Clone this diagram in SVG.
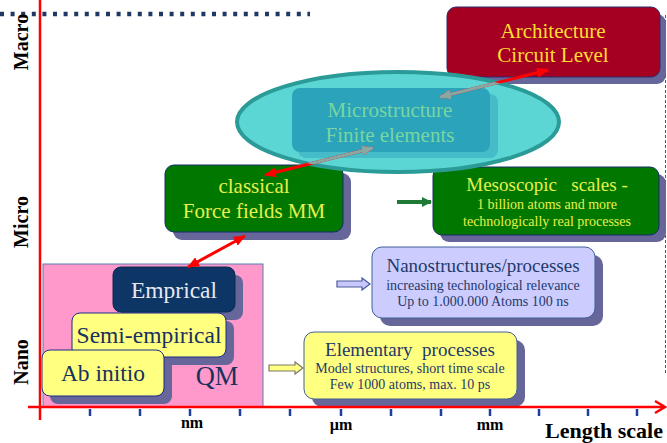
<svg xmlns="http://www.w3.org/2000/svg" width="667" height="443" viewBox="0 0 667 443" font-family="'Liberation Serif', 'Times New Roman', serif">
  <style>
    .t { text-anchor: middle; }
    .shadow { fill: #66669a; }
    .axis { stroke: #ff0000; stroke-width: 2.5; fill: none; }
    .tick { stroke: #1f3fa0; stroke-width: 2.5; }
    .lbl { font-weight: bold; fill: #000; }
    .red { stroke: #ff0000; stroke-width: 3; fill: none; marker-start: url(#rh); marker-end: url(#rh); }
    .grey { stroke: #8aa7a4; stroke-width: 3; fill: none; marker-start: url(#gh); marker-end: url(#gh); }
  </style>
  <defs>
    <marker id="rh" viewBox="0 0 12 10" refX="11" refY="5" markerWidth="12" markerHeight="10" markerUnits="userSpaceOnUse" orient="auto-start-reverse">
      <path d="M0,0 L12,5 L0,10 Z" fill="#ff0000"/>
    </marker>
    <marker id="gh" viewBox="0 0 12 10" refX="11" refY="5" markerWidth="12" markerHeight="10" markerUnits="userSpaceOnUse" orient="auto-start-reverse">
      <path d="M0,0 L12,5 L0,10 Z" fill="#8aa7a4"/>
    </marker>
    <marker id="gr" viewBox="0 0 10 10" refX="9" refY="5" markerWidth="10" markerHeight="10" markerUnits="userSpaceOnUse" orient="auto">
      <path d="M0,0 L10,5 L0,10 Z" fill="#1f7a36"/>
    </marker>
    <clipPath id="inEllipse">
      <ellipse cx="398" cy="122" rx="161" ry="50"/>
    </clipPath>
  </defs>

  <!-- scale boundaries -->
  <line x1="0" y1="14" x2="310" y2="14" stroke="#1f3864" stroke-width="4.5" stroke-dasharray="4 6.6"/>
  <line x1="665.5" y1="15" x2="665.5" y2="375" stroke="#555" stroke-width="1" stroke-dasharray="3 2"/>

  <!-- level labels -->
  <text class="lbl" font-size="20" text-anchor="middle" transform="translate(28,42) rotate(-90)">Macro</text>
  <text class="lbl" font-size="20" text-anchor="middle" transform="translate(28,222) rotate(-90)">Micro</text>
  <text class="lbl" font-size="20" text-anchor="middle" transform="translate(28,362) rotate(-90)">Nano</text>

  <!-- QM region -->
  <g id="qm">
    <rect x="43" y="264" width="220" height="143" fill="#ff99cc" stroke="#5a7db0" stroke-width="1"/>
    <text class="t" x="217" y="385" font-size="26.5" fill="#16325e">QM</text>
  </g>
  <g id="emprical">
    <rect class="shadow" x="121" y="275" width="122" height="45" rx="8"/>
    <rect x="113" y="267" width="122" height="45" rx="8" fill="#0d3566" stroke="#0a2a55"/>
    <text class="t" x="174" y="298" font-size="23.5" fill="#e6e8f2">Emprical</text>
  </g>
  <g id="semi-empirical">
    <rect class="shadow" x="80" y="321" width="154" height="44" rx="8"/>
    <rect x="72" y="313" width="154" height="44" rx="8" fill="#ffff80" stroke="#1a2a8a"/>
    <text class="t" x="149" y="343" font-size="23.5" fill="#16325e">Semi-empirical</text>
  </g>
  <g id="ab-initio">
    <rect class="shadow" x="50" y="358" width="122" height="46" rx="8"/>
    <rect x="42" y="350" width="122" height="46" rx="8" fill="#ffff80" stroke="#1a2a8a"/>
    <text class="t" x="103" y="381" font-size="23.5" fill="#16325e">Ab initio</text>
  </g>

  <!-- upper boxes -->
  <g id="architecture">
    <rect class="shadow" x="453" y="14" width="213" height="70" rx="9"/>
    <rect x="447" y="7" width="213" height="70" rx="9" fill="#a50021" stroke="#2a2a6a"/>
    <text class="t" x="553" y="38" font-size="21" fill="#ffdd33">Architecture</text>
    <text class="t" x="553" y="62" font-size="21" fill="#ffdd33">Circuit Level</text>
  </g>
  <g id="classical">
    <rect class="shadow" x="173" y="173" width="178" height="67" rx="9"/>
    <rect x="165" y="165" width="178" height="67" rx="9" fill="#007800" stroke="#1a2a6a"/>
    <text class="t" x="254" y="193" font-size="21" fill="#e8f04a">classical</text>
    <text class="t" x="254" y="218" font-size="21" fill="#e8f04a">Force fields MM</text>
  </g>
  <g id="mesoscopic">
    <rect class="shadow" x="440" y="174" width="226" height="68" rx="9"/>
    <rect x="433" y="167" width="226" height="68" rx="9" fill="#007800" stroke="#1a2a6a"/>
    <text class="t" x="547" y="191" font-size="19" fill="#e8f04a" xml:space="preserve">Mesoscopic   scales -</text>
    <text class="t" x="547" y="209" font-size="14" fill="#e8f04a">1 billion atoms and more</text>
    <text class="t" x="547" y="226" font-size="14" fill="#e8f04a">technologically real processes</text>
  </g>

  <!-- microstructure inside ellipse -->
  <g id="microstructure">
    <ellipse cx="398" cy="122" rx="161" ry="50" fill="#5cd6d4" stroke="#2b9b98" stroke-width="4"/>
    <rect x="298" y="94" width="200" height="64" rx="8" fill="#45bcc8"/>
    <rect x="292" y="88" width="198" height="64" rx="8" fill="#2aa3bb"/>
    <text class="t" x="390" y="117" font-size="21" fill="#78d6a2">Microstructure</text>
    <text class="t" x="390" y="142" font-size="21" fill="#78d6a2">Finite elements</text>
  </g>

  <g id="nanostructures">
    <rect class="shadow" x="380" y="255" width="223" height="71" rx="10"/>
    <rect x="372" y="247" width="223" height="71" rx="10" fill="#ccccff" stroke="#40609a"/>
    <text class="t" x="483" y="272" font-size="19" fill="#1f3a6a">Nanostructures/processes</text>
    <text class="t" x="483" y="290" font-size="14" fill="#1f3a6a">increasing technological relevance</text>
    <text class="t" x="483" y="306" font-size="14" fill="#1f3a6a">Up to 1.000.000 Atoms 100 ns</text>
  </g>
  <g id="elementary">
    <rect class="shadow" x="312" y="340" width="213" height="67" rx="10"/>
    <rect x="304" y="332" width="213" height="67" rx="10" fill="#ffff80" stroke="#40609a"/>
    <text class="t" x="410" y="356" font-size="19" fill="#1f3a6a" xml:space="preserve">Elementary  processes</text>
    <text class="t" x="410" y="373" font-size="14" fill="#1f3a6a">Model structures, short time scale</text>
    <text class="t" x="410" y="389" font-size="14" fill="#1f3a6a">Few 1000 atoms, max. 10 ps</text>
  </g>

  <!-- connectors -->
  <g id="connectors">
    <line class="red" x1="440" y1="97" x2="548" y2="70"/>
    <line class="red" x1="373" y1="148" x2="265" y2="175"/>
    <g clip-path="url(#inEllipse)">
      <line class="grey" x1="440" y1="97" x2="548" y2="70"/>
      <line class="grey" x1="373" y1="148" x2="265" y2="175"/>
    </g>
    <line class="red" x1="245" y1="236" x2="188" y2="267"/>
    <line x1="397" y1="202" x2="431" y2="202" stroke="#1f7a36" stroke-width="4" marker-end="url(#gr)"/>
    <path d="M337,281 L362,281 L362,278 L370,284 L362,290 L362,287 L337,287 Z" fill="#c8c8ff" stroke="#4a5a9a" stroke-width="1.2"/>
    <path d="M269,365 L295,365 L295,362 L303,368 L295,374 L295,371 L269,371 Z" fill="#ffff80" stroke="#7a7a6a" stroke-width="1.2"/>
  </g>

  <!-- axes -->
  <g id="axes">
    <line class="axis" x1="40" y1="0" x2="40" y2="420"/>
    <line class="axis" x1="28" y1="407" x2="664" y2="407"/>
    <path class="axis" d="M655,401 L665,407 L655,413"/>
    <line class="tick" x1="90" y1="409" x2="90" y2="416"/>
    <line class="tick" x1="140" y1="409" x2="140" y2="416"/>
    <line class="tick" x1="190" y1="409" x2="190" y2="416"/>
    <line class="tick" x1="240" y1="409" x2="240" y2="416"/>
    <line class="tick" x1="290" y1="409" x2="290" y2="416"/>
    <line class="tick" x1="341" y1="409" x2="341" y2="416"/>
    <line class="tick" x1="391" y1="409" x2="391" y2="416"/>
    <line class="tick" x1="441" y1="409" x2="441" y2="416"/>
    <line class="tick" x1="490" y1="409" x2="490" y2="416"/>
    <line class="tick" x1="539" y1="409" x2="539" y2="416"/>
    <line class="tick" x1="588" y1="409" x2="588" y2="416"/>
    <line class="tick" x1="637" y1="409" x2="637" y2="416"/>
    <text class="lbl" x="192" y="428" font-size="16" text-anchor="middle">nm</text>
    <text class="lbl" x="341" y="430" font-size="16" text-anchor="middle">µm</text>
    <text class="lbl" x="490" y="430" font-size="16" text-anchor="middle">mm</text>
    <text class="lbl" x="663" y="438" font-size="22" text-anchor="end">Length scale</text>
  </g>
</svg>
